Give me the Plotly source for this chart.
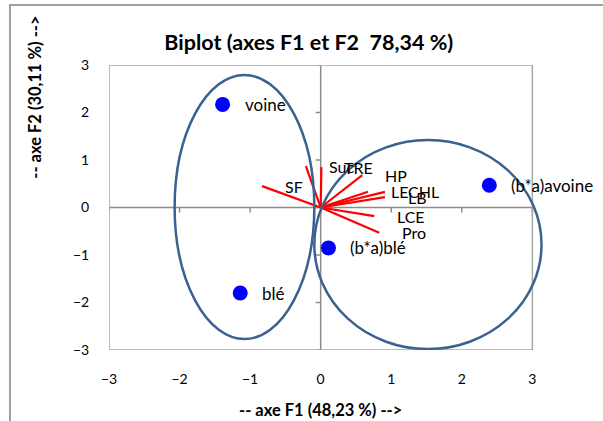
import plotly.graph_objects as go

# Observations (factor scores)
obs_names = ["voine", "blé", "(b*a)blé", "(b*a)avoine"]
obs_f1 = [-1.39, -1.14, 0.11, 2.39]
obs_f2 = [2.17, -1.80, -0.85, 0.47]

# Variables (vector endpoints)
var_names = ["Suc", "TRE", "HP", "SF", "LE", "CHL", "LB", "LCE", "Pro"]
var_f1 = [-0.21, 0.01, 0.59, -0.83, 0.67, 0.91, 0.91, 0.76, 0.83]
var_f2 = [0.87, 0.85, 0.68, 0.45, 0.33, 0.33, 0.22, -0.18, -0.53]

# Group ellipses (bounding boxes in factor space)
ell_x0 = [-2.07, -0.09]
ell_x1 = [-0.09, 3.13]
ell_y0 = [-2.77, -2.98]
ell_y1 = [2.79, 1.42]

tick_vals = [-3, -2, -1, 0, 1, 2, 3]

title_text = "Biplot (axes F1 et F2  78,34 %)"
x_title = "-- axe F1 (48,23 %) -->"
y_title = "-- axe F2 (30,11 %) -->"

FONT = "Lato, Carlito, Calibri, sans-serif"

fig = go.Figure()

# vectors
vx, vy = [], []
for a, b in zip(var_f1, var_f2):
    vx += [0, a, None]
    vy += [0, b, None]
fig.add_trace(go.Scatter(x=vx, y=vy, mode="lines",
                         line=dict(color="#FF0000", width=2.2),
                         hoverinfo="skip", showlegend=False))

# observations
fig.add_trace(go.Scatter(x=obs_f1, y=obs_f2, mode="markers",
                         marker=dict(color="#0000FF", size=15),
                         text=obs_names, showlegend=False))

annotations = []
for n, a, b in zip(obs_names, obs_f1, obs_f2):
    annotations.append(dict(x=a, y=b, xref="x", yref="y", text=n, showarrow=False,
                            xanchor="left", yanchor="middle", xshift=20,
                            font=dict(family=FONT, size=17, color="#000000")))
for n, a, b in zip(var_names, var_f1, var_f2):
    annotations.append(dict(x=a, y=b, xref="x", yref="y", text=n, showarrow=False,
                            xanchor="left", yanchor="middle", xshift=21,
                            font=dict(family=FONT, size=16, color="#000000")))

annotations.append(dict(x=0.4807, y=-0.2105, xref="paper", yref="paper", text="<b>%s</b>" % x_title,
                        showarrow=False, xanchor="center", yanchor="middle",
                        font=dict(family=FONT, size=16.5, color="#000000")))
annotations.append(dict(x=-0.1678, y=0.885, xref="paper", yref="paper", text="<b>%s</b>" % y_title,
                        showarrow=False, xanchor="center", yanchor="middle", textangle=-90,
                        font=dict(family=FONT, size=16.5, color="#000000")))

shapes = []
# zero axes
shapes.append(dict(type="line", xref="x", yref="y", x0=tick_vals[0], x1=tick_vals[-1], y0=0, y1=0,
                   line=dict(color="#8C8C8C", width=1.5), layer="below"))
shapes.append(dict(type="line", xref="x", yref="y", x0=0, x1=0, y0=tick_vals[0], y1=tick_vals[-1],
                   line=dict(color="#8C8C8C", width=1.5), layer="below"))
for t in tick_vals:
    shapes.append(dict(type="line", xref="x", yref="y", ysizemode="pixel", yanchor=0,
                       x0=t, x1=t, y0=0, y1=-5, line=dict(color="#8C8C8C", width=1.5), layer="below"))
    shapes.append(dict(type="line", xref="x", yref="y", xsizemode="pixel", xanchor=0,
                       y0=t, y1=t, x0=0, x1=-5, line=dict(color="#8C8C8C", width=1.5), layer="below"))
# plot frame
shapes.append(dict(type="rect", xref="x", yref="y", x0=tick_vals[0], x1=tick_vals[-1],
                   y0=tick_vals[0], y1=tick_vals[-1],
                   line=dict(color="#A6A6A6", width=1.5), layer="below"))
# ellipses
for x0, x1, y0, y1 in zip(ell_x0, ell_x1, ell_y0, ell_y1):
    shapes.append(dict(type="circle", xref="x", yref="y", x0=x0, x1=x1, y0=y0, y1=y1,
                       line=dict(color="#3A6190", width=2.5)))
# chart border
shapes.append(dict(type="rect", xref="paper", yref="paper", x0=-0.2245, x1=1.1315, y0=-0.28, y1=1.2105,
                   line=dict(color="#A0A0A0", width=2)))

fig.update_layout(
    width=603, height=421,
    margin=dict(l=109, r=53, t=65, b=71),
    paper_bgcolor="white", plot_bgcolor="white",
    showlegend=False,
    title=dict(text="<b>%s</b>" % title_text, x=0.512, y=0.90, xanchor="center", yanchor="middle",
               xref="container", yref="container",
               font=dict(family=FONT, size=21.5, color="#000000")),
    xaxis=dict(range=[-3, 3.25], tickvals=tick_vals, showgrid=False, zeroline=False, showline=False,
               ticks="outside", ticklen=16, tickcolor="rgba(0,0,0,0)",
               tickfont=dict(family=FONT, size=14, color="#000000")),
    yaxis=dict(range=[-3, 3], tickvals=tick_vals, showgrid=False, zeroline=False, showline=False,
               ticks="outside", ticklen=16, tickcolor="rgba(0,0,0,0)",
               tickfont=dict(family=FONT, size=14, color="#000000")),
    annotations=annotations,
    shapes=shapes,
)

fig.write_html("out.html")
